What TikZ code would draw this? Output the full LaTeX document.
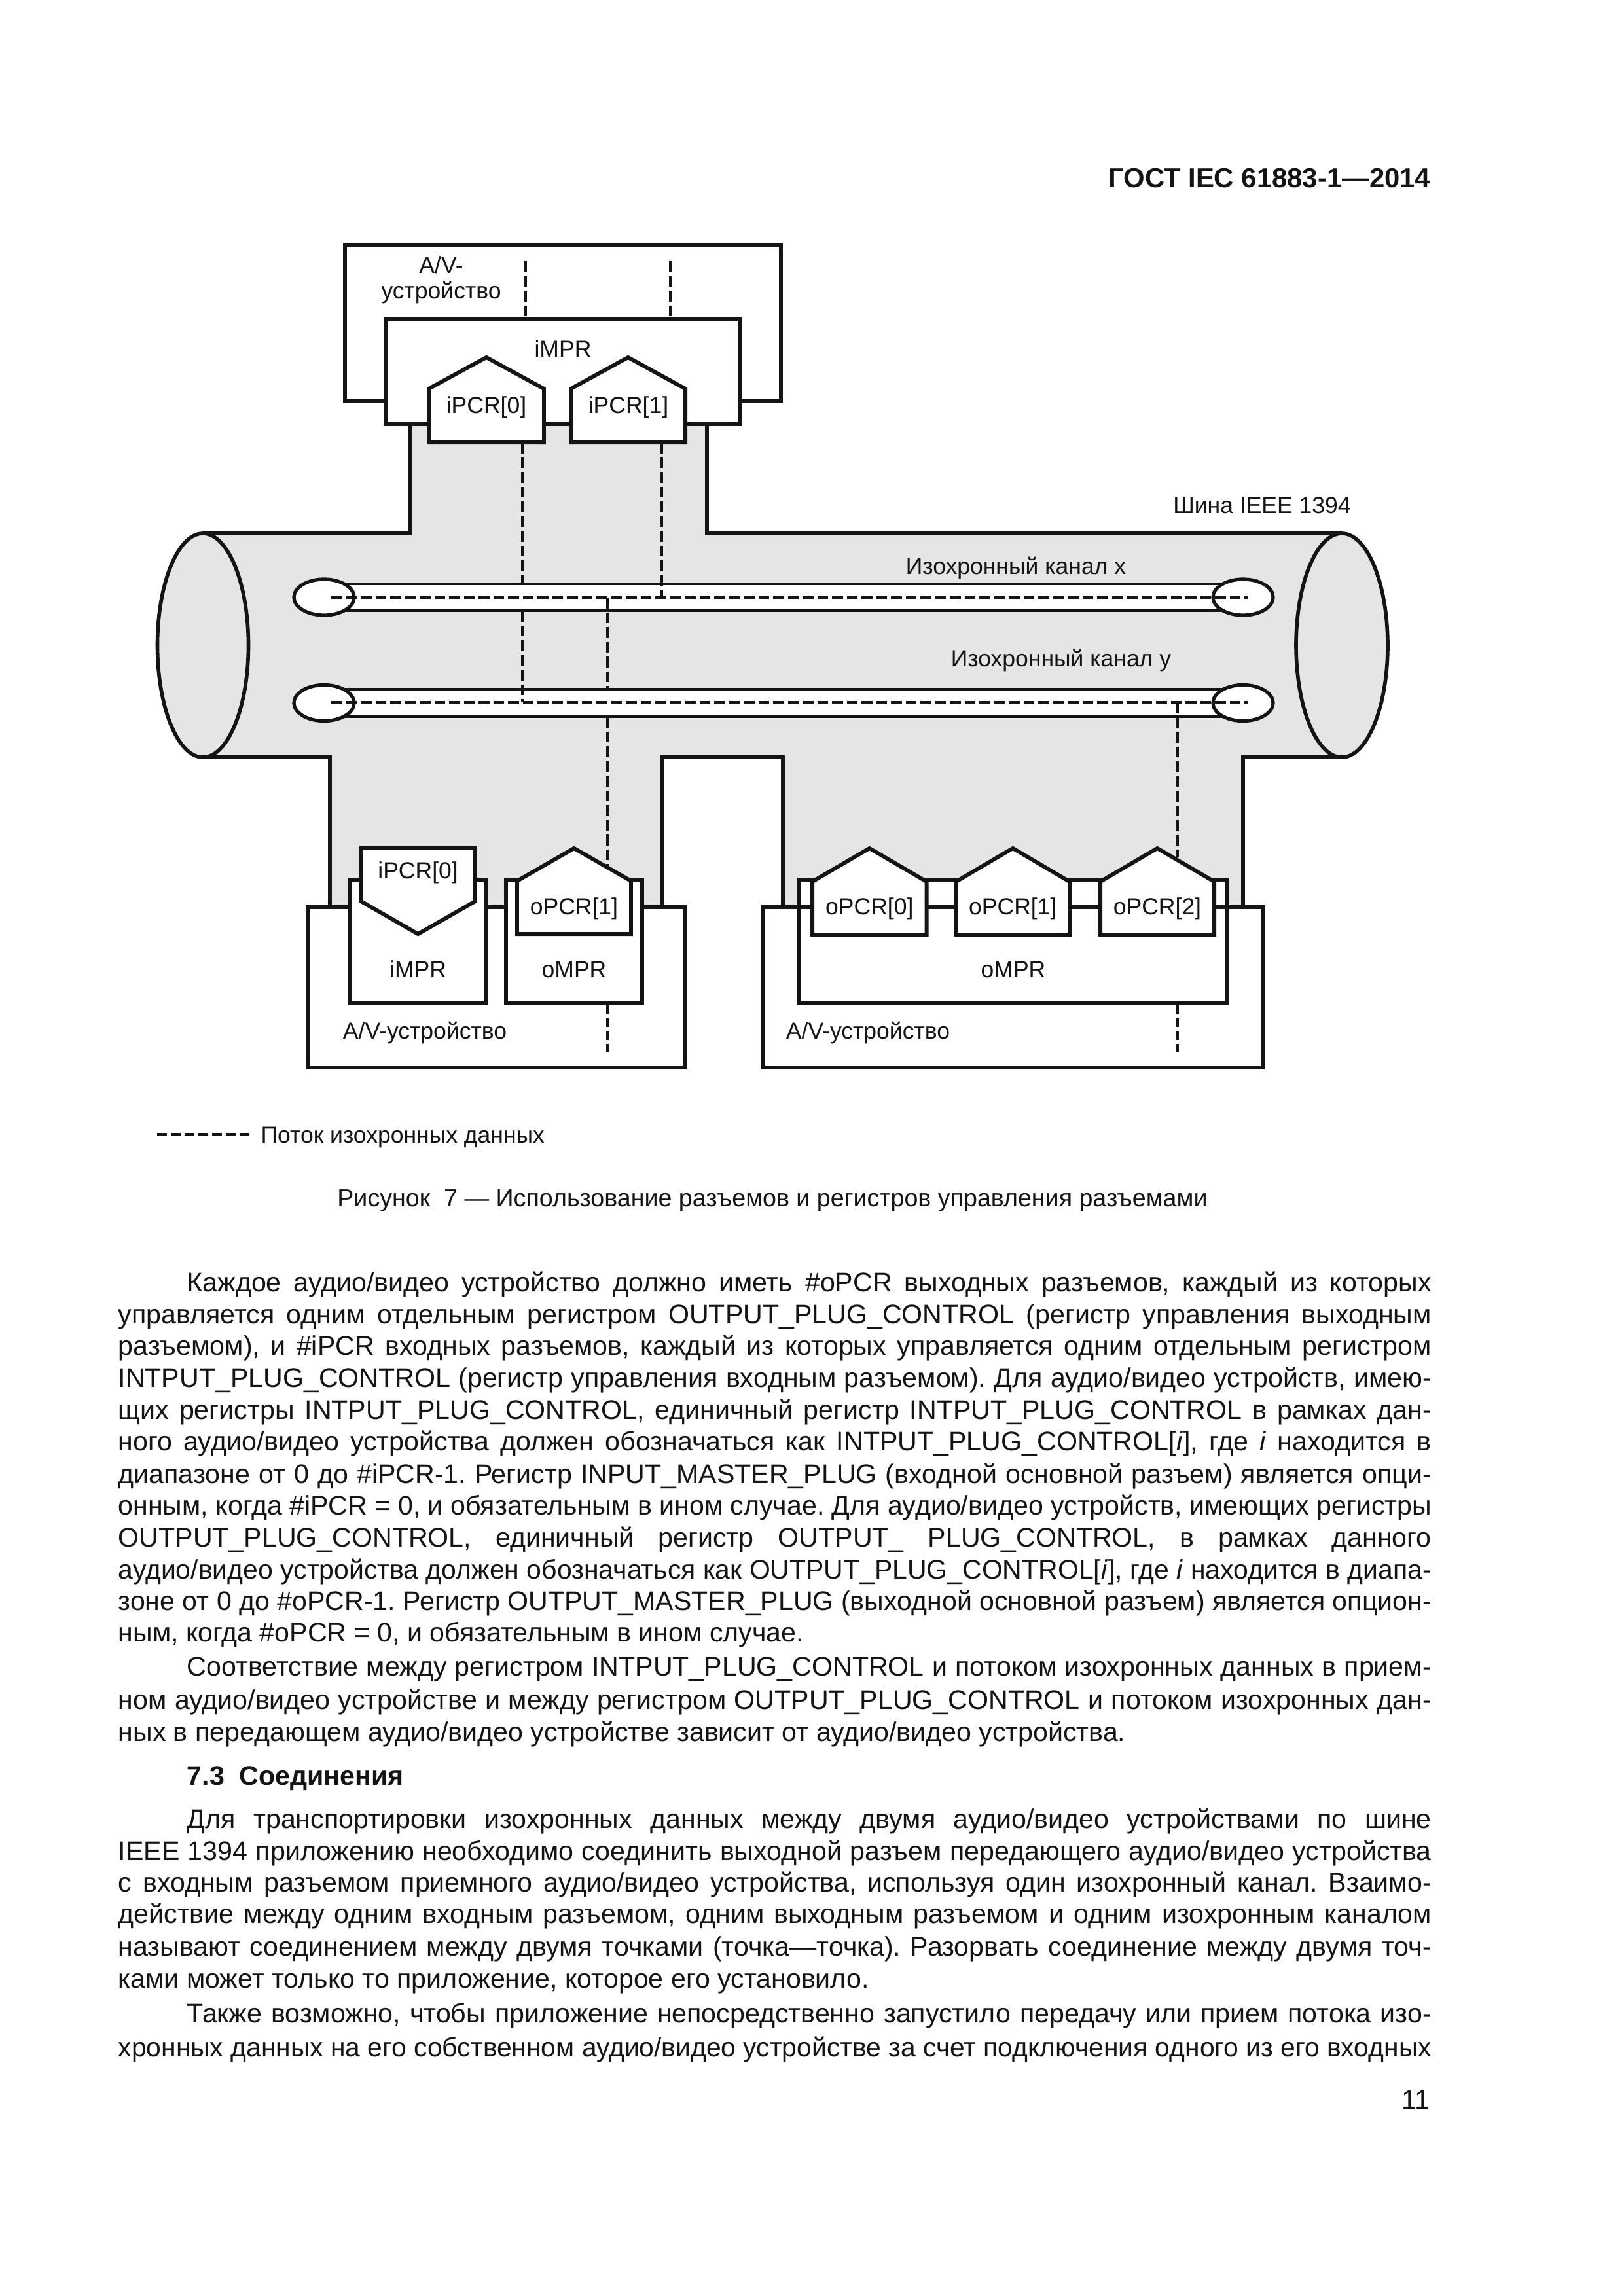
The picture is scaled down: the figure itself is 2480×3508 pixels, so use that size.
\documentclass[tikz,border=0pt]{standalone}
\usepackage{fontspec}
\setmainfont{Liberation Sans}
\usepackage{graphicx}
\frenchspacing

\definecolor{ink}{HTML}{141414}
\definecolor{busgray}{HTML}{E5E5E5}

\newsavebox\linebox
% ajustar una linea al ancho dado
\newcommand{\fitline}[2]{\sbox\linebox{#2}%
	\ifdim\wd\linebox<#1\makebox[#1][s]{#2}\else\resizebox{#1}{\height}{#2}\fi}
\newcommand{\fullln}[1]{\fitline{20.05cm}{#1}}
\newcommand{\indln}[1]{\fitline{19.00cm}{#1}}

\tikzset{
	regbox/.style={draw=ink, fill=white, line width=1.7pt},
	plug/.style={draw=ink, fill=white, line width=1.7pt},
	busln/.style={draw=ink, line width=1.6pt},
	tubeln/.style={draw=ink, line width=1.4pt},
	endcap/.style={draw=ink, fill=white, line width=1.5pt},
	flow/.style={draw=ink, line width=0.9pt, dash pattern=on 4.7pt off 1.7pt},
	flowend/.style={draw=ink, line width=0.9pt, dash pattern=on 3.85pt off 1.7pt},
	lbl/.style={inner sep=0pt, anchor=base, text=ink, font=\fontsize{10.1}{12}\selectfont},
	bodyln/.style={inner sep=0pt, anchor=base west, text=ink, font=\fontsize{11.7}{14}\selectfont},
}

\begin{document}
\begin{tikzpicture}[x=0.01cm,y=-0.01cm]

	% Pagina
	\useasboundingbox (0,0) rectangle (2480,3508);
	\fill[white] (0,0) rectangle (2480,3508);

	% Bus gris
	\fill[busgray] (310,815) -- (626,815) -- (626,640) -- (1080,640) -- (1080,815) -- (2050,815)
		-- (2050,1157) -- (1899,1157) -- (1899,1390) -- (1196,1390) -- (1196,1157)
		-- (1011,1157) -- (1011,1390) -- (504,1390) -- (504,1157) -- (310,1157) -- cycle;
	\draw[busln, fill=busgray] (310,986) ellipse [x radius=69.5, y radius=171];
	\draw[busln, fill=busgray] (2050,986) ellipse [x radius=70, y radius=171];
	\draw[busln] (310,815) -- (626,815) -- (626,648);
	\draw[busln] (1080,648) -- (1080,815) -- (2050,815);
	\draw[busln] (310,1157) -- (504,1157) -- (504,1386);
	\draw[busln] (1011,1386) -- (1011,1157) -- (1196,1157) -- (1196,1386);
	\draw[busln] (1899,1386) -- (1899,1157) -- (2050,1157);

	% Canales
	\coordinate (xtop) at (0,892);
	\coordinate (xmid) at (0,913);
	\coordinate (xbot) at (0,933);
	\coordinate (ytop) at (0,1053);
	\coordinate (ymid) at (0,1073);
	\coordinate (ybot) at (0,1095);
	\fill[white] (495,892) rectangle (1899,933);
	\fill[white] (495,1053) rectangle (1899,1095);
	\draw[tubeln] (495,892) -- (1899,892);
	\draw[tubeln] (495,933) -- (1899,933);
	\draw[tubeln] (495,1053) -- (1899,1053);
	\draw[tubeln] (495,1095) -- (1899,1095);
	\foreach \yy in {912.5,1074}
		\draw[endcap] (495,\yy) ellipse [x radius=46, y radius=27.5]
			(1899,\yy) ellipse [x radius=46, y radius=27.5];
	\draw[flow] (506,913) -- (1906,913);
	\draw[flow] (506,1073) -- (1906,1073);

	% Dispositivo superior
	\draw[regbox] (527,374) rectangle (1193,612);
	\draw[regbox] (589,487) rectangle (1130,648);
	\foreach \nm/\xl/\xr in {ipcrA/655/831, ipcrB/872/1047}
		\draw[plug] (\xl,676) -- (\xl,594) -- ({(\xl+\xr)/2},546) -- (\xr,594) -- (\xr,676) -- cycle;
	\node[lbl] (topdev1) at (674,417) {A/V-};
	\node[lbl] (topdev2) at (674,456) {устройство};
	\node[lbl] (topimpr) at (860,545) {iMPR};
	\node[lbl] (topipcr0) at (743,631) {iPCR[0]};
	\node[lbl] (topipcr1) at (960,631) {iPCR[1]};

	% Flujo vertical
	\coordinate (flowA) at (798,676);
	\coordinate (flowB) at (1011,676);
	\coordinate (flowC) at (928,0);
	\coordinate (flowD) at (1799,0);
	\draw[flow] (803,399) -- (803,487);
	\draw[flow] (1024,399) -- (1024,487);
	\draw[flow] (flowA) -- (flowA |- xtop);
	\draw[flow] (flowA |- xbot) -- (flowA |- ymid);
	\draw[flow] (flowB) -- (flowB |- xmid);
	\draw[flow] (flowC |- xmid) -- (flowC |- ytop);
	\draw[flow] (flowC |- ybot) -- (928,1325);
	\draw[flow] (flowD |- ymid) -- (1799,1310);

	% Dispositivo izquierdo
	\draw[regbox] (470,1386) rectangle (1046,1631);
	\draw[regbox] (534.5,1344) rectangle (743,1533);
	\draw[regbox] (773,1344) rectangle (981,1533);
	\draw[plug] (551.5,1295) -- (726,1295) -- (726,1377) -- (638.6,1427) -- (551.5,1377) -- cycle;
	\draw[plug] (790,1427) -- (790,1346) -- (877,1296) -- (964,1346) -- (964,1427) -- cycle;
	\node[lbl] (leftipcr) at (638.6,1342) {iPCR[0]};
	\node[lbl] (leftopcr) at (877,1397) {oPCR[1]};
	\node[lbl] (leftimpr) at (638.6,1493) {iMPR};
	\node[lbl] (leftompr) at (877,1493) {oMPR};
	\node[lbl] (leftdev) at (649,1587) {A/V-устройство};
	\draw[flowend] (928,1536) -- (928,1609);

	% Dispositivo derecho
	\draw[regbox] (1166,1386) rectangle (1930,1631);
	\draw[regbox] (1221,1344) rectangle (1875,1533);
	\draw[busln] (1166,1386) -- (1930,1386);
	\foreach \nm/\xl/\xr/\tx in {rightA/1241/1415.6/0, rightB/1460.6/1634/1, rightC/1681/1855/2} {
		\draw[plug] (\xl,1428) -- (\xl,1347) -- ({(\xl+\xr)/2},1296) -- (\xr,1347) -- (\xr,1428) -- cycle;
		\node[lbl] (\nm) at ({(\xl+\xr)/2},1397) {oPCR[\tx]};
	}
	\node[lbl] (rightompr) at (1548,1493) {oMPR};
	\node[lbl] (rightdev) at (1326,1587) {A/V-устройство};
	\draw[flowend] (1799,1536) -- (1799,1609);

	% Rotulos del bus
	\node[lbl] (busname) at (1928,784) {Шина IEEE 1394};
	\node[lbl] (chanx) at (1552,877) {Изохронный канал x};
	\node[lbl] (chany) at (1621,1018) {Изохронный канал y};

	% Leyenda y pie
	\coordinate (legA) at (240,1733);
	\coordinate (legB) at (381,1733);
	\draw[flow, dash pattern=on 4.27pt off 1.7pt] (legA) -- (legB);
	\node[lbl, anchor=base west] (legtxt) at (398,1746) {Поток изохронных данных};
	\node[lbl, font=\fontsize{10.7}{12}\selectfont] (caption) at (1180,1843) {Рисунок\ \ 7 — Использование разъемов и регистров управления разъемами};

	% Cabecera y numero
	\node[lbl, anchor=base east, font=\fontsize{11.9}{14}\selectfont\bfseries] (header) at (2186,286) {ГОСТ IEC 61883-1—2014};
	\node[bodyln, anchor=base east] (pagenum) at (2185,3222) {11};

	% Texto
	\node[bodyln] (l1) at (285,1973) {\indln{Каждое аудио/видео устройство должно иметь \#oPCR выходных разъемов, каждый из которых}};
	\node[bodyln] (l2) at (180,2022) {\fullln{управляется одним отдельным регистром OUTPUT\_PLUG\_CONTROL (регистр управления выходным}};
	\node[bodyln] (l3) at (180,2070) {\fullln{разъемом), и \#iPCR входных разъемов, каждый из которых управляется одним отдельным регистром}};
	\node[bodyln] (l4) at (180,2119) {\fullln{INTPUT\_PLUG\_CONTROL (регистр управления входным разъемом). Для аудио/видео устройств, имею-}};
	\node[bodyln] (l5) at (180,2168) {\fullln{щих регистры INTPUT\_PLUG\_CONTROL, единичный регистр INTPUT\_PLUG\_CONTROL в рамках дан-}};
	\node[bodyln] (l6) at (180,2216) {\fullln{ного аудио/видео устройства должен обозначаться как INTPUT\_PLUG\_CONTROL[\textit{i}], где \textit{i} находится в}};
	\node[bodyln] (l7) at (180,2266) {\fullln{диапазоне от 0 до \#iPCR-1. Регистр INPUT\_MASTER\_PLUG (входной основной разъем) является опци-}};
	\node[bodyln] (l8) at (180,2314) {\fullln{онным, когда \#iPCR = 0, и обязательным в ином случае. Для аудио/видео устройств, имеющих регистры}};
	\node[bodyln] (l9) at (180,2363) {\fullln{OUTPUT\_PLUG\_CONTROL, единичный регистр OUTPUT\_ PLUG\_CONTROL, в рамках данного}};
	\node[bodyln] (l10) at (180,2412) {\fullln{аудио/видео устройства должен обозначаться как OUTPUT\_PLUG\_CONTROL[\textit{i}], где \textit{i} находится в диапа-}};
	\node[bodyln] (l11) at (180,2460) {\fullln{зоне от 0 до \#oPCR-1. Регистр OUTPUT\_MASTER\_PLUG (выходной основной разъем) является опцион-}};
	\node[bodyln] (l12) at (180,2508) {ным, когда \#oPCR = 0, и обязательным в ином случае.};
	\node[bodyln] (l13) at (285,2560) {\indln{Соответствие между регистром INTPUT\_PLUG\_CONTROL и потоком изохронных данных в прием-}};
	\node[bodyln] (l14) at (180,2611) {\fullln{ном аудио/видео устройстве и между регистром OUTPUT\_PLUG\_CONTROL и потоком изохронных дан-}};
	\node[bodyln] (l15) at (180,2660) {ных в передающем аудио/видео устройстве зависит от аудио/видео устройства.};
	\node[bodyln, font=\fontsize{11.7}{14}\selectfont\bfseries] (sec) at (285,2727) {7.3\ \ Соединения};
	\node[bodyln] (m1) at (285,2793) {\indln{Для транспортировки изохронных данных между двумя аудио/видео устройствами по шине}};
	\node[bodyln] (m2) at (180,2842) {\fullln{IEEE 1394 приложению необходимо соединить выходной разъем передающего аудио/видео устройства}};
	\node[bodyln] (m3) at (180,2890) {\fullln{с входным разъемом приемного аудио/видео устройства, используя один изохронный канал. Взаимо-}};
	\node[bodyln] (m4) at (180,2938) {\fullln{действие между одним входным разъемом, одним выходным разъемом и одним изохронным каналом}};
	\node[bodyln] (m5) at (180,2988) {\fullln{называют соединением между двумя точками (точка—точка). Разорвать соединение между двумя точ-}};
	\node[bodyln] (m6) at (180,3037) {ками может только то приложение, которое его установило.};
	\node[bodyln] (n1) at (285,3090) {\indln{Также возможно, чтобы приложение непосредственно запустило передачу или прием потока изо-}};
	\node[bodyln] (n2) at (180,3142) {\fullln{хронных данных на его собственном аудио/видео устройстве за счет подключения одного из его входных}};

\end{tikzpicture}
\end{document}
